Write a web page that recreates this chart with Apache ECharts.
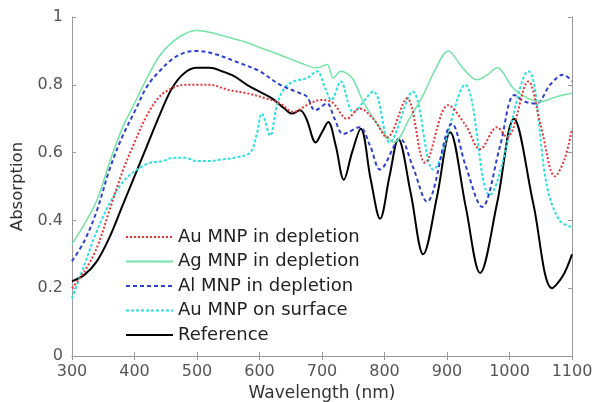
<!DOCTYPE html>
<html><head><meta charset="utf-8">
<script src="https://cdn.jsdelivr.net/npm/echarts@6/dist/echarts.min.js"></script>
<style>html,body{margin:0;padding:0;background:#fff}#c{width:597px;height:402px}</style>
</head><body><div id="c"></div>
<script>
// Series names
const seriesNames = ['Au MNP in depletion', 'Ag MNP in depletion', 'Al MNP in depletion', 'Au MNP on surface', 'Reference'];

// Au MNP in depletion
const auDepWl  = [300,320,340,360,380,400,420,440,460,480,500,520,550,580,610,633,654,676,697,715,740,760,782,804,836,865,902,930,953,980,996,1030,1050,1073,1088,1100];
const auDepAbs = [0.20,0.25,0.32,0.43,0.54,0.63,0.71,0.765,0.79,0.80,0.80,0.80,0.785,0.775,0.76,0.745,0.72,0.74,0.755,0.75,0.70,0.73,0.70,0.645,0.76,0.57,0.74,0.68,0.61,0.675,0.645,0.81,0.68,0.53,0.58,0.67];

// Ag MNP in depletion
const agDepWl  = [300,320,340,360,380,400,420,440,460,480,500,520,550,580,600,630,665,692,708,718,730,748,766,790,815,840,862,880,902,925,948,965,980,1006,1030,1049,1075,1100];
const agDepAbs = [0.33,0.39,0.46,0.57,0.67,0.745,0.82,0.885,0.925,0.95,0.96,0.955,0.94,0.925,0.91,0.89,0.865,0.85,0.86,0.82,0.84,0.82,0.75,0.68,0.63,0.70,0.77,0.84,0.90,0.85,0.815,0.83,0.85,0.79,0.76,0.75,0.765,0.775];

// Al MNP in depletion
const alDepWl  = [300,320,340,360,380,400,420,440,460,480,500,530,560,600,633,665,676,689,708,720,734,760,777,793,825,845,868,908,930,956,985,1008,1025,1043,1065,1086,1100];
const alDepAbs = [0.28,0.34,0.43,0.55,0.645,0.72,0.795,0.84,0.875,0.895,0.90,0.89,0.87,0.84,0.80,0.775,0.765,0.725,0.745,0.70,0.655,0.675,0.62,0.55,0.64,0.56,0.455,0.685,0.56,0.44,0.62,0.77,0.75,0.745,0.80,0.83,0.81];

// Au MNP on surface
const auSurfWl  = [300,320,340,360,380,400,425,445,462,480,500,520,540,560,585,595,604,617,628,640,655,676,692,705,715,730,750,782,808,845,878,929,968,1030,1060,1080,1100];
const auSurfAbs = [0.17,0.27,0.37,0.45,0.51,0.545,0.57,0.575,0.585,0.585,0.575,0.575,0.58,0.585,0.60,0.65,0.715,0.65,0.74,0.79,0.81,0.82,0.84,0.79,0.755,0.81,0.72,0.78,0.63,0.78,0.55,0.80,0.475,0.84,0.50,0.40,0.38];

// Reference
const refWl  = [300,320,340,360,380,400,420,440,460,480,500,520,540,560,580,600,620,640,652,665,675,690,700,710,722,735,748,762,778,793,808,822,842,862,884,905,930,953,980,1007,1038,1068,1085,1100];
const refAbs = [0.22,0.24,0.28,0.35,0.44,0.53,0.62,0.71,0.79,0.835,0.85,0.85,0.84,0.825,0.80,0.78,0.76,0.73,0.715,0.725,0.70,0.63,0.66,0.69,0.62,0.52,0.60,0.67,0.52,0.405,0.53,0.64,0.48,0.30,0.47,0.66,0.44,0.245,0.45,0.70,0.45,0.20,0.235,0.30];

const xTicks = [300,400,500,600,700,800,900,1000,1100];
const yTicks = [0,0.2,0.4,0.6,0.8,1];

const pairs = (xs, ys) => xs.map((x, i) => [x, ys[i]]);
const FONT = '"DejaVu Sans", sans-serif';

const styles = [
  {color:'#e03535', type:[2,2], width:2},
  {color:'#74e3a6', type:'solid', width:1.5},
  {color:'#2f40d0', type:[4,3], width:2},
  {color:'#2ee0e0', type:[3,2], width:2},
  {color:'#000000', type:'solid', width:2}
];
const dataSets = [pairs(auDepWl, auDepAbs), pairs(agDepWl, agDepAbs), pairs(alDepWl, alDepAbs), pairs(auSurfWl, auSurfAbs), pairs(refWl, refAbs)];

const chart = echarts.init(document.getElementById('c'), null, {renderer:'canvas'});
const axisLine = {show:true, lineStyle:{color:'#999', width:1}};
chart.setOption({
  animation:false,
  backgroundColor:'#fff',
  grid:{left:72, right:25, top:17, bottom:46, containLabel:false, outerBoundsMode:'none'},
  legend:{
    orient:'vertical', left:120, top:223, itemWidth:47, itemHeight:14, itemGap:6.5,
    itemStyle:{opacity:0},
    textStyle:{fontFamily:FONT, fontSize:18, color:'#222'},
    data: seriesNames
  },
  xAxis:[{
    type:'value', min:300, max:1100, interval:100, position:'bottom',
    name:'Wavelength (nm)', nameLocation:'middle', nameGap:28,
    nameTextStyle:{fontFamily:FONT, fontSize:17, color:'#333'},
    axisLine: axisLine, axisTick:{show:true, inside:true, length:4, lineStyle:{color:'#999'}},
    axisLabel:{fontFamily:FONT, fontSize:16, color:'#555', margin:8,
      formatter: v => (xTicks.includes(v) ? String(v) : '')},
    splitLine:{show:false}
  },{
    type:'value', min:300, max:1100, interval:100, position:'top',
    axisLine: axisLine, axisTick:{show:true, inside:true, length:4, lineStyle:{color:'#999'}},
    axisLabel:{show:false}, splitLine:{show:false}
  }],
  yAxis:[{
    type:'value', min:0, max:1, interval:0.2, position:'left',
    name:'Absorption', nameLocation:'middle', nameGap:41,
    nameTextStyle:{fontFamily:FONT, fontSize:16.5, color:'#333'},
    axisLine: axisLine, axisTick:{show:true, inside:true, length:4, lineStyle:{color:'#999'}},
    axisLabel:{fontFamily:FONT, fontSize:16, color:'#555', margin:9,
      formatter: v => (yTicks.includes(Math.round(v*10)/10) ? String(Math.round(v*10)/10) : '')},
    splitLine:{show:false}
  },{
    type:'value', min:0, max:1, interval:0.2, position:'right',
    axisLine: axisLine, axisTick:{show:true, inside:true, length:4, lineStyle:{color:'#999'}},
    axisLabel:{show:false}, splitLine:{show:false}
  }],
  series: seriesNames.map((n, i) => ({
    name:n, type:'line', data:dataSets[i], smooth:0.35,
    symbol:'none', showSymbol:false, xAxisIndex:0, yAxisIndex:0,
    itemStyle:{color:styles[i].color},
    lineStyle:{color:styles[i].color, type:styles[i].type, width:styles[i].width},
    z: 10 - i
  }))
});
</script></body></html>
